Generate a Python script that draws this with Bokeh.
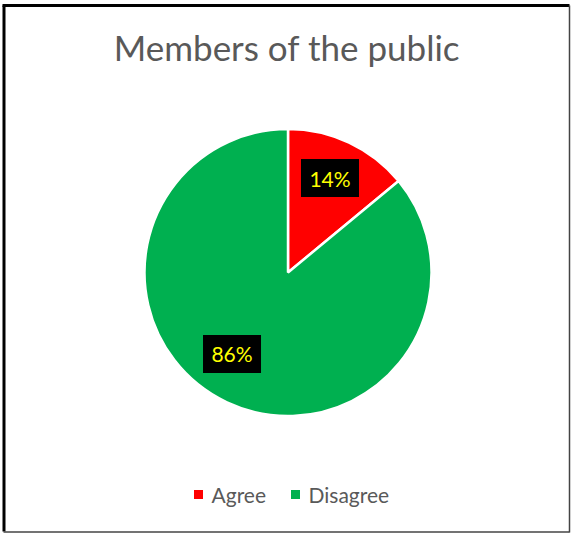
import math
from bokeh.plotting import figure
from bokeh.models import Range1d, ColumnDataSource
from bokeh.core.properties import value
from bokeh.embed import file_html
from bokeh.resources import INLINE

# ---- data ----
title = "Members of the public"
categories = ["Agree", "Disagree"]
shares = [14, 86]
colors = ["#FF0000", "#00B050"]

# ---- layout ----
W, H = 571, 533
cx, cy = 287.5, H - 272
R = 143.5
FONT = "Lato"
label_nudge = [(-2, -1), (-12, -12)]   # best-fit label shift (pixels, x right / y down)

p = figure(width=W, height=H, output_backend="svg", toolbar_location=None,
           x_range=Range1d(0, W), y_range=Range1d(0, H),
           min_border=0, outline_line_color=None)
p.axis.visible = False
p.xgrid.visible = False
p.ygrid.visible = False
p.background_fill_color = "white"
p.border_fill_color = "white"

total = sum(shares)
starts, ends, mids = [], [], []
acc = 0.0
for s in shares:
    a0 = math.pi / 2 - 2 * math.pi * acc / total
    acc += s
    a1 = math.pi / 2 - 2 * math.pi * acc / total
    starts.append(a0)
    ends.append(a1)
    mids.append((a0 + a1) / 2)

src = ColumnDataSource(dict(start=starts, end=ends, color=colors,
                            x=[cx] * len(shares), y=[cy] * len(shares)))
p.wedge(x="x", y="y", radius=R, radius_units="screen", start_angle="start",
        end_angle="end", direction="clock", fill_color="color",
        line_color="white", line_width=2.5, source=src)

# data labels
lf = 0.72
lx = [cx + lf * R * math.cos(m) + n[0] for m, n in zip(mids, label_nudge)]
ly = [cy + lf * R * math.sin(m) - n[1] for m, n in zip(mids, label_nudge)]
ltxt = [f"{s}%" for s in shares]
p.rect(x=lx, y=ly, width=58, height=38, width_units="screen", height_units="screen",
       fill_color="black", line_color=None)
p.text(x=lx, y=ly, text=ltxt, text_align="center", text_baseline="middle",
       text_color="#FFFF00", text_font=value(FONT), text_font_size="21px")

# title
p.text(x=[W / 2 + 1], y=[H - 46], text=[title], text_align="center",
       text_baseline="middle", text_color="#595959",
       text_font=value(FONT), text_font_size="35px")

# legend
leg_y = H - 494
leg_sq_x = [198, 295]
p.scatter(x=leg_sq_x, y=[leg_y] * 2, marker="square", size=9,
          fill_color=colors, line_color=None)
p.text(x=[x + 13 for x in leg_sq_x], y=[leg_y] * 2, text=categories,
       text_align="left", text_baseline="middle", text_color="#595959",
       text_font=value(FONT), text_font_size="21px")

# chart frame
p.segment(x0=[3.5, 2], y0=[2, H - 5], x1=[3.5, 569], y1=[H - 5, H - 5],
          line_color="black", line_width=3)
p.segment(x0=[569, 3], y0=[H - 5, 1.5], x1=[569, 569], y1=[1, 1.5],
          line_color="#444444", line_width=1.5)

open("out.html", "w").write(file_html(p, INLINE))
